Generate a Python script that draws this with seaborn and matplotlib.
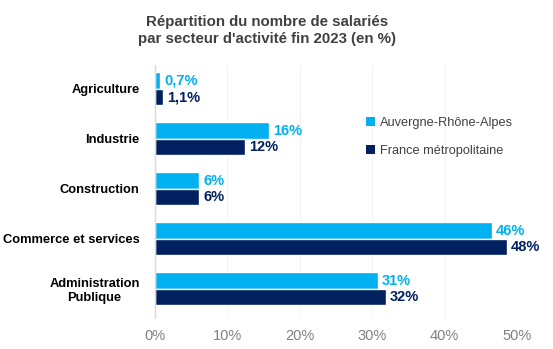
import matplotlib
matplotlib.use("Agg")
import matplotlib.pyplot as plt
import seaborn as sns
import pandas as pd
from matplotlib.patches import Patch

categories = ["Agriculture", "Industrie", "Construction", "Commerce et services", "Administration\nPublique"]
series = ["Auvergne-Rhône-Alpes", "France métropolitaine"]
ara = [0.7, 15.7, 6.1, 46.5, 30.8]
fra = [1.1, 12.4, 6.1, 48.6, 31.9]
ara_labels = ["0,7%", "16%", "6%", "46%", "31%"]
fra_labels = ["1,1%", "12%", "6%", "48%", "32%"]
xticks = [0, 10, 20, 30, 40, 50]

sns.set_theme(style="white")
plt.rcParams['font.family'] = ['Liberation Sans', 'DejaVu Sans']

colors = ["#00B0F0", "#002060"]

df = pd.DataFrame({
    "cat": categories * 2,
    "serie": [series[0]] * len(categories) + [series[1]] * len(categories),
    "val": ara + fra,
})

fig = plt.figure(figsize=(5.53, 3.49), dpi=100)
ax = fig.add_axes([0.280, 0.089, 0.655, 0.725])
sns.barplot(data=df, y="cat", x="val", hue="serie", orient="h",
            palette=colors, width=0.66, ax=ax, legend=False, saturation=1)

for bars, labs, col in zip(ax.containers, [ara_labels, fra_labels], colors):
    ax.bar_label(bars, labels=labs, padding=3, color=col, fontsize=10.5, fontweight="bold")

ax.set_xlim(0, 50)
ax.set_ylim(4.58, -0.48)
ax.set_xticks(xticks)
ax.set_xticklabels([f"{t}%" for t in xticks], color="#808080", fontsize=10.5)
ax.tick_params(axis="x", length=0, pad=8)
ax.tick_params(axis="y", length=0, pad=11)
for lab in ax.get_yticklabels():
    lab.set_fontweight("bold")
    lab.set_fontsize(9.3)
    lab.set_color("#000000")
    lab.set_multialignment("center")
ax.set_xlabel("")
ax.set_ylabel("")
for s in ["top", "right", "bottom"]:
    ax.spines[s].set_visible(False)
ax.spines["left"].set_color("#D9D9D9")
ax.spines["left"].set_linewidth(1)
ax.xaxis.grid(True, color="#F2F2F2", linewidth=0.8)
ax.set_axisbelow(True)

handles = [Patch(facecolor=c, edgecolor="none") for c in colors]
ax.legend(handles, series, loc="upper left", bbox_to_anchor=(0.55, 0.84), frameon=False,
          handlelength=0.7, handleheight=0.7, handletextpad=0.4,
          labelspacing=1.25, labelcolor="#404040",
          prop={'family': ['Liberation Sans', 'DejaVu Sans'], 'size': 9.2})

fig.text(0.483, 0.958, "Répartition du nombre de salariés\npar secteur d'activité fin 2023 (en %)",
         ha="center", va="top", fontsize=10.8, fontweight="bold", color="#404040",
         linespacing=1.3)

fig.savefig("out.png", dpi=100)
